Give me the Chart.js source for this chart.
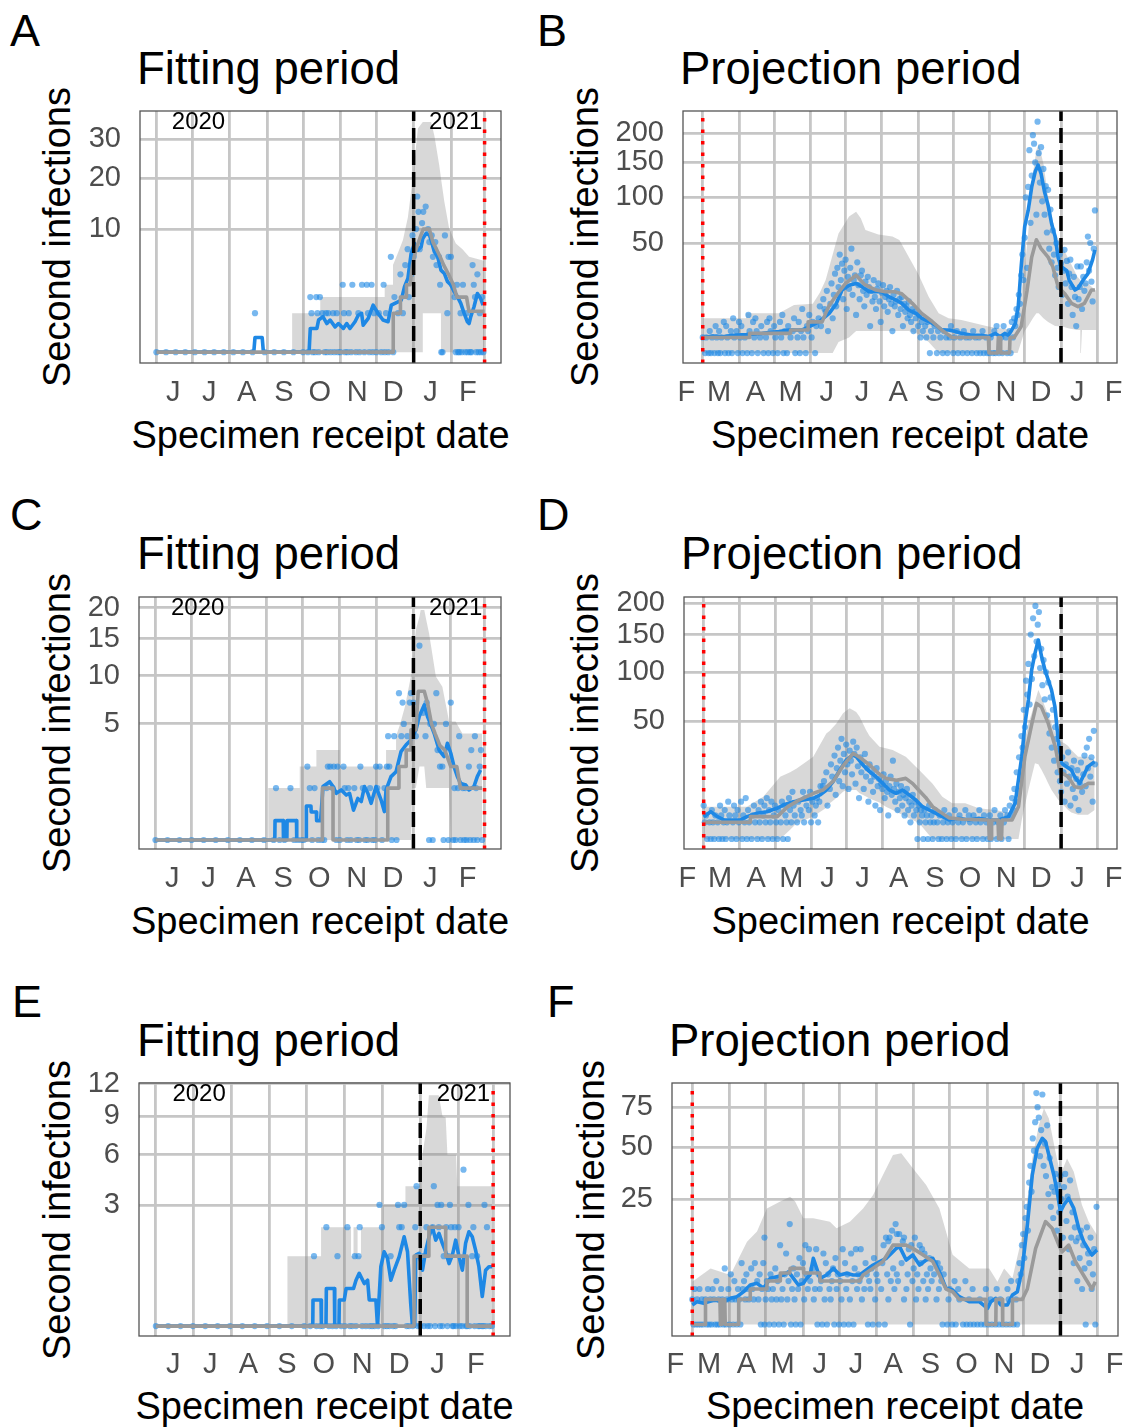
<!DOCTYPE html>
<html lang="en">
<head>
<meta charset="UTF-8">
<title>Second infections: fitting and projection periods</title>
<style>
    body {
        margin: 0;
        background: #fff;
        font-family: "Liberation Sans", Arial, Helvetica, sans-serif;
    }
    .page {
        position: relative;
        width: 1130px;
        height: 1427px;
        overflow: hidden;
        background: #fff;
    }
    .letter {
        position: absolute;
        font-size: 45px;
        line-height: 45px;
        color: #000;
    }
    .title {
        position: absolute;
        font-size: 45.5px;
        line-height: 45.5px;
        color: #000;
        white-space: nowrap;
    }
    .ytitle, .xtitle {
        position: absolute;
        width: 400px;
        height: 38px;
        font-size: 38px;
        line-height: 38px;
        text-align: center;
        white-space: nowrap;
        color: #000;
    }
    .ytitle {
        transform: rotate(-90deg);
        transform-origin: 50% 50%;
    }
    canvas {
        position: absolute;
    }
</style>
</head>
<body>
<div class="page" id="page">
    <div class="letter" style="left:10px;top:8px">A</div>
    <div class="letter" style="left:537px;top:8px">B</div>
    <div class="letter" style="left:10px;top:492px">C</div>
    <div class="letter" style="left:537px;top:492px">D</div>
    <div class="letter" style="left:12px;top:979px">E</div>
    <div class="letter" style="left:547px;top:979px">F</div>

    <div class="title" style="left:137px;top:46px">Fitting period</div>
    <div class="title" style="left:680px;top:46px">Projection period</div>
    <div class="title" style="left:137px;top:531px">Fitting period</div>
    <div class="title" style="left:681px;top:531px">Projection period</div>
    <div class="title" style="left:137px;top:1018px">Fitting period</div>
    <div class="title" style="left:669px;top:1018px">Projection period</div>
</div>

<script src="https://cdn.jsdelivr.net/npm/chart.js"></script>
<script>
// x values are days: fitting panels count from 1 Jun 2020, projection panels from 1 Mar 2021
const fitGridDays = [0, 30, 61, 92, 122, 153, 183, 214, 245, 273];
const fitTickDays = [14, 44, 75, 106, 136, 167, 197, 228, 259];
const fitTickLabels = ['J', 'J', 'A', 'S', 'O', 'N', 'D', 'J', 'F'];
const projGridDays = [0, 31, 61, 92, 122, 153, 184, 214, 245, 275, 306, 337];
const projTickDays = [-14, 14, 45, 75, 106, 136, 167, 198, 228, 259, 289, 320, 351];
const projTickLabels = ['F', 'M', 'A', 'M', 'J', 'J', 'A', 'S', 'O', 'N', 'D', 'J', 'F'];
const yearLabels = ['2020', '2021'];
const yearLabelDays = [35, 249];
const fitDashDay = 214;
const fitDotDay = 273;
const projDashDay = 306;
const projDotDay = 0;

const aYTicks = [10, 20, 30];
const bYTicks = [50, 100, 150, 200];
const cYTicks = [5, 10, 15, 20];
const dYTicks = [50, 100, 150, 200];
const eYTicks = [3, 6, 9, 12];
const fYTicks = [25, 50, 75];

// ribbon rows are [day, lower, upper]; lines and points are [day, value]
const aRibbon = [[0,0,0],[112.9,0,0],[112.9,0,1],[136.3,0,1],[136.3,0,2],[189.9,0,2],[189.9,0,3],[196.8,0,3],[196.8,0,5],[200.9,0,6.5],[205.1,0,8.3],[209.2,0,12],[213.3,0,20],[217.5,0,33],[221.6,0,35],[221.6,1,35],[228.5,1,35],[231.2,1,31],[235.3,1,23],[236.7,1,20],[236.7,0,20],[239.5,0,15],[243.6,0,10],[249.1,0,7.8],[254.6,0,7],[260.1,0,6],[272.5,0,5.5]];
const aMedian = [[0,0],[197,0],[197,1],[203,1],[203,2],[208,2],[208,3],[211,3],[213,5],[216,7],[220,9],[222,10],[227,10],[230,8],[233,7],[236,6],[239,5],[243,4],[247,3],[250,2],[258,2],[260,1.1],[273,1.1]];
const aMean = [[0,0],[81,0],[82,0.14],[88,0.14],[89,0],[127,0],[128,0.37],[133.5,0.37],[134.9,0.68],[138.5,0.83],[141.8,0.54],[144.5,0.68],[148.6,0.42],[151.4,0.54],[155.5,0.37],[158.3,0.54],[161,0.37],[165.2,0.61],[167.9,0.9],[170.7,0.99],[172,0.48],[176.2,0.75],[180.3,1.46],[184.4,0.99],[188.5,0.68],[192.7,0.61],[195.4,1.46],[200.9,1.67],[203.7,1.79],[206.4,2.82],[209.2,3.59],[211.9,6.43],[214.7,7.8],[217.5,6.88],[220.2,7.33],[221.6,8.54],[224.3,9.31],[227.1,9.05],[228.5,8.29],[231.2,6.65],[234,6.01],[236.7,4.44],[239.5,4.09],[242.2,3.27],[245,2.97],[247.7,2.41],[250.5,2.02],[253.2,1.57],[256,0.99],[258.7,0.61],[260.1,0.54],[261.5,0.83],[264.2,1.36],[267,2.27],[269.7,1.9],[271.7,1.46]];
const aObserved = [[0,0],[8,0],[16,0],[24,0],[32,0],[40,0],[48,0],[56,0],[64,0],[72,0],[80,0],[90,0],[98,0],[106,0],[114,0],[122,0],[126,0],[130,0],[132,0],[135,0],[140,0],[142,0],[145,0],[148,0],[151,0],[153,0],[157,0],[159,0],[162,0],[166,0],[169,0],[173,0],[177,0],[180,0],[183,0],[187,0],[190,0],[193,0],[197,0],[237,0],[238,0],[249,0],[251,0],[252,0],[254,0],[257,0],[259,0],[261,0],[262,0],[266,0],[268,0],[270,0],[272,0],
  [82,1],[128,2],[129,1],[133,2],[134,1],[136,2],[138,1],[141,1],[143,1],[147,1],[150,1],[155,3],[156,1],[160,1],[163,3],[168,1],[171,3],[175,3],[176,1],[179,3],[181,1],[185,1],[189,3],[191,1],[195,6],[198,2],[201,1],[203,4],[205,1],[207,5],[209,7],[210,2],[212,4],[213,9],[214,6],[216,10],[217,16],[218,13],[219,7],[221,11],[222,13],[224,14],[226,10],[227,8],[229,9],[230,6],[232,8],[233,5],[235,6],[236,3],[240,9],[242,1],[243,6],[245,6],[246,3],[248,2],[250,3],[253,1],[255,3],[258,1],[263,5],[264,3],[265,2],[267,4],[269,1],[271,2]];

const bRibbon = [[0,0,5],[37,0,5],[37,0,6.5],[65,0,6.5],[78,0,9.5],[94,0,10],[100,0,15],[105,0,22],[111,0,40],[116,0.5,59],[125,1,77],[131,2,82.5],[135,2,75],[139,2,62.5],[150,2,58],[162,2,56],[168,2,52.7],[176,2,38],[184,1.5,26],[193,0.5,13.1],[201.5,0,6.5],[210,0,5],[221,0,4.5],[244,0,2.9],[264,0,2.2],[269,0,6],[272,0.5,14.7],[275,2,30],[278,3,59],[282,5,133],[285,6.5,170],[287,6.5,181],[291,5,148],[295,4,101],[301,3,60],[307,2.9,46.7],[313,2.5,35.7],[320,2.2,24],[322.5,2.2,22],[323,0,21],[324,2.2,21],[329,2.2,20],[336,2.2,16]];
const bMedian = [[0,1],[40,1],[40,1.6],[75,1.6],[75,2.2],[90,2.2],[90,4],[102,4],[105,6.5],[108,9.3],[117,16],[122,20],[131,25],[138,19.5],[148,16.4],[156,15.5],[164,15.5],[170,14.5],[179,10.2],[187,6.5],[196,4.1],[204,2.2],[213,1],[244,1],[244.5,0],[252,0],[252.5,1],[254,1],[254.5,0],[262,0],[262.5,1],[266,1],[272,2.9],[277,16],[281,38],[285,53],[289,45],[295,38],[299,30.8],[303.5,18.2],[309,14.7],[315,10.2],[320.5,8.9],[326,10.2],[332,16.4],[335,16.4]];
const bMean = [[0,1],[9,1.2],[17,1.1],[26,1.3],[37,1.4],[51,1.6],[65,1.9],[74,2.2],[85,2.2],[91,2.9],[99.5,4.1],[108,6.5],[114,10],[119,16.4],[125,19],[131,20],[136,18.2],[142,15.5],[148,15.5],[153,15.5],[159,13.1],[165,11.6],[170,10.2],[176,7.6],[182,6.5],[187,5],[193,4.1],[199,3.2],[204,2.2],[210,2.2],[216,1.9],[221,1.6],[230,1.3],[238,1.3],[244,1.1],[250,1.6],[254,1.1],[258,1.6],[261,1.3],[264,2.2],[267,3.6],[269.5,8.9],[272,30.8],[275,66],[278,84],[281,114],[284,136],[286.5,146],[289,133],[292,107],[295,90],[298,69],[301,56],[303.5,38],[306,31],[311,28],[313,22],[318,16.4],[320.5,17.3],[325,22],[329,26],[333,36],[335,44]];
const bObserved = [[2,0],[5,0],[7,0],[10,0],[13,0],[15,0],[19,0],[22,0],[25,0],[30,0],[34,0],[38,0],[42,0],[47,0],[52,0],[56,0],[60,0],[64,0],[69,0],[72,0],[79,0],[83,0],[88,0],[96,0],
  [0,1],[3,1],[8,1],[12,1],[16,1],[21,1],[27,1],[32,1],[36,1],[44,1],[49,1],[54,1],[62,1],[67,1],[75,1],[81,1],[86,1],[93,1],
  [6,2],[14,2],[24,2],[29,2],[40,2],[46,2],[58,2],[70,2],[77,2],[84,2],[90,2],
  [11,3],[20,3],[33,3],[50,3],[61,3],[73,3],[89,3],[97,3],
  [18,4],[31,4],[43,4],[55,4],[66,4],[82,4],[94,4],
  [26,5],[45,5],[57,5],[78,5],[99,5],[39,6],[68,6],[91,6],[85,8],[100,9],[104,8],
  [101,3],[103,12],[105,7],[106,16],[107,2],[109,10],[110,20],[111,5],[112,14],[113,26],[114,9],[115,30],[116,18],[117,40],[118,22],[119,33],[120,12],[121,28],[122,36],[123,8],[124,24],[125,17],[126,30],[127,45],[128,14],[129,22],[130,25],[131,6],[132,34],[133,19],[134,12],[135,25],[136,28],[137,16],[138,9],[139,21],[140,14],[141,24],[142,18],[143,3],[144,16],[145,11],[146,22],[147,13],[148,8],[149,17],[150,20],[151,11],[152,4],[153,15],[154,19],[155,9],[156,13],[157,16],[158,7],[159,12],[160,18],[161,10],[162,2],[163,14],[164,9],[165,11],[166,16],[167,6],[168,12],[169,8],[170,13],[171,3],[172,10],[173,7],[174,9],[175,5],[176,11],[177,6],[178,4],[179,8],[180,2],[181,7],[182,5],[184,3],[185,6],[186,1],[187,4],[188,2],[190,3],[191,1],[192,4],[194,0],[195,2],[197,1],[198,3],[200,0],[201,2],[203,1],[205,0],[206,2],[208,1],[209,0],[211,1],[212,3],[214,0],[215,1],[217,2],[218,0],[220,1],[222,0],[223,2],[225,1],[226,0],[228,1],[230,0],[231,2],[233,1],[234,0],[236,1],[237,0],[239,2],[240,0],[242,1],[243,0],[245,0],[246,1],[248,0],[249,2],[250,0],[251,3],[253,0],[255,1],[256,0],[257,3],[259,1],[260,0],[262,2],[263,0],[264,4],[265,1],[266,5],[267,3],[268,8],[269,6],[270,14],[271,10],[272,25],[273,40],[274,22],[275,55],[276,100],[277,30],[278,114],[279,170],[280,70],[281,130],[282,196],[283,181],[284,150],[285,79],[286,221],[287,165],[288,120],[289,175],[290,95],[291,140],[292,79],[293,115],[294,60],[295,110],[296,45],[297,85],[298,34],[299,62],[300,40],[301,25],[302,50],[303,30],[304,18],[305,40],[306,33],[307,14],[308,28],[309,44],[310,20],[311,35],[312,10],[313,26],[314,36],[315,18],[316,6],[317,24],[318,13],[319,3],[320,31],[321,12],[322,18],[323,31],[324,8],[325,24],[326,16],[327,20],[328,34],[329,56],[330,28],[331,50],[332,21],[333,11],[334,45],[335,84]];

const cRibbon = [[0,0,0],[93.6,0,0],[93.6,0,1],[119.7,0,1],[119.7,0,2],[133.5,0,2],[133.5,0,3],[152.8,0,3],[152.8,0,2],[191.3,0,2],[191.3,0,3],[199.6,0,3],[199.6,0,4],[203,0,5],[207,0,6.6],[212,0,10],[213,1,11],[216,1,16.4],[219,2,18.5],[220,2,19.6],[223,2,19.6],[224.6,1,18],[227,1,15.8],[232.6,1,9.9],[238,1,8.7],[243.6,1,5.2],[245,0,5.2],[249,0,5.2],[254.6,0,4.2],[271,0,4.2]];
const cMedian = [[0,0],[138.5,0],[138.5,1],[147.3,1],[147.3,0],[192.7,0],[192.7,1],[202,1],[202,2],[208,2],[208,3],[212,3],[212,4.5],[216,4.5],[218,8.2],[223,8.2],[226,6.8],[229,5],[232,4.2],[236,3.3],[240,3],[245,2],[250,2],[253,1],[271,1]];
const cMean = [[0,0],[99,0],[99.2,0.14],[106,0.14],[106.2,0],[109,0],[109.2,0.14],[117,0.14],[117.2,0],[125,0],[125.2,0.43],[129,0.43],[129.2,0.29],[133.5,0.29],[133.7,0.14],[137,0.14],[139,1.06],[144.5,1.26],[147.3,1.06],[150,0.81],[154.1,0.93],[158.3,0.75],[161,0.81],[164.3,0.33],[167.9,0.64],[170.7,0.55],[173.4,1.06],[176.2,0.81],[178.9,0.5],[183,1.06],[187.2,0.59],[189.9,0.3],[191.3,0.93],[195.4,1.49],[199.6,1.73],[203.7,2.9],[207.8,3.35],[211.9,3.71],[216.1,4.49],[218.8,5.65],[223,6.77],[225.7,5.65],[228.5,4.91],[231.2,4.22],[235.3,3],[239.5,2.58],[242.2,3.47],[245,2.79],[247.7,2],[250.5,1.49],[253.2,1.19],[257.4,1.12],[260.1,0.93],[264.2,1.06],[267,1.49],[269.7,1.82]];
const cObserved = [[0,0],[10,0],[20,0],[30,0],[40,0],[50,0],[60,0],[70,0],[80,0],[90,0],[98,0],[103,0],[107,0],[115,0],[118,0],[121,0],[123,0],[130,0],[135,0],[138,0],[140,0],[150,0],[153,0],[159,0],[162,0],[167,0],[169,0],[174,0],[176,0],[180,0],[182,0],[188,0],[196,0],[200,0],[227,0],[230,0],[239,0],[243,0],[247,0],[249,0],[253,0],[256,0],[258,0],[261,0],[264,0],[267,0],[271,0],
  [100,1],[112,1],[128,1],[132,1],[142,1],[147,1],[157,1],[160,1],[165,1],[172,1],[178,1],[184,1],[190,1],[248,1],[251,1],[255,1],[257,1],[266,1],
  [126,2],[143,2],[145,2],[148,2],[151,2],[156,2],[170,2],[183,2],[186,2],[192,2],[194,2],[238,2],[269,2],[236,2],[260,2],
  [193,4],[198,4],[204,4],[209,4],[216,4],[224,4],[252,4],[265,4],
  [206,5],[228,5],[231,5],[241,5],[205,7],[211,7],[214,7],[225,7],[245,7],[202,8],[212,8],[233,8],[219,14],[222,6],[234,3],[262,3],[270,3]];

const dRibbon = [[0,0,3.75],[37,0,3.75],[51,0,6.4],[65.5,0,13.9],[74,0.3,16],[79.6,0.9,17.9],[93.8,1.8,24.3],[105,3.5,40],[108,4.6,42],[113.6,6,48],[119.3,8,56.7],[122,8.6,59],[125,8.6,61.3],[130.6,8.6,58],[133.5,7.5,53.7],[139,6.5,42.6],[142,5.9,38],[150.5,4.8,30.6],[156,3.75,29.5],[161.8,3,28.4],[173,1.8,24.3],[184.5,0.9,17.1],[195.8,0,11.1],[204.3,0,6.4],[212.8,0,4.6],[224,0,4.6],[235.5,0,3.4],[249.6,0,3],[263.8,0,2.4],[269.5,0,8.6],[272.3,1.3,20],[275,4,35.2],[278,8.6,48],[280.8,14,56.7],[283.6,20.6,68],[286.5,20,79.7],[289.3,17.1,72],[292.2,14,62.9],[295,11.1,55],[297.8,8.6,48],[303.5,5.5,35.2],[309.2,3.8,32.8],[312,3,31],[314.8,2.5,28.4],[320.5,2.1,24.3],[329,2.1,24.3],[334.7,3,22.4]];
const dMedian = [[0,1],[40,1],[40,1.8],[63,1.8],[72,3.75],[82,5.5],[94,7.5],[102,8.6],[111,12],[119,19],[128,26.3],[133.5,24],[142,19.7],[150,15.3],[156,13.2],[165,12.4],[173,13.2],[179,11],[184,8.6],[190,6.2],[196,3.75],[204,2.4],[210,1.6],[221,1.4],[244,1.3],[244.5,0],[246,0],[246.5,1.3],[252,1.3],[252.5,0],[255,0],[255.5,1.3],[264,1.3],[269.5,3.75],[275,24.3],[281,48],[285,66],[289,62.9],[295,48],[301,30.6],[305,16.3],[312,13.9],[317.6,9.8],[323,9.3],[329,11.1],[334.7,11.1]];
const dMean = [[0,1.79],[6,2.68],[11.6,1.79],[17.3,1.3],[23,1.3],[31.5,1.3],[37.1,1.79],[45.6,2.37],[54.1,2.68],[62.6,3.38],[68.3,4.15],[76.8,5],[85.3,5.46],[93.8,5.94],[99.5,6.95],[105.1,8.62],[110.8,11.8],[116.5,17.1],[122.1,22.4],[127.8,25.3],[130.6,24.3],[136.3,19.7],[142,16.3],[147.6,13.9],[153.3,11.1],[159,8.62],[164.6,7.5],[170.3,8.62],[176,6.95],[181.6,5.46],[187.3,3.75],[195.8,2.68],[204.3,1.79],[210,1.3],[218.5,1.53],[227,1.3],[235.5,1.53],[244,1.3],[252.5,1.3],[261,1.79],[266.6,4.57],[272.3,24.3],[275.1,48],[278,69.4],[280.8,102.6],[283.6,123.8],[286.5,142.2],[289.3,119.3],[292.2,102.6],[295,90.8],[297.8,79.7],[300.7,62.9],[303.5,35.2],[306.3,20.6],[310.6,18.8],[314.8,17.1],[317.6,13.9],[321.9,11.1],[324.7,13.9],[329,18.8],[334.7,21.5]];
const dObserved = [[3,0],[6,0],[9,0],[13,0],[16,0],[19,0],[24,0],[28,0],[33,0],[37,0],[41,0],[46,0],[50,0],[55,0],[59,0],[63,0],[68,0],[72,0],
  [1,1],[5,1],[8,1],[12,1],[17,1],[20,1],[25,1],[30,1],[35,1],[39,1],[44,1],[48,1],[53,1],[57,1],[62,1],[66,1],[71,1],[75,1],[80,1],[86,1],[92,1],[98,1],
  [2,2],[10,2],[15,2],[22,2],[27,2],[34,2],[42,2],[51,2],[60,2],[70,2],[78,2],[84,2],[95,2],
  [7,3],[18,3],[29,3],[38,3],[47,3],[56,3],[64,3],[74,3],[83,3],[90,3],
  [0,4],[14,4],[26,4],[43,4],[52,4],[61,4],[69,4],[77,4],[88,4],[96,4],
  [21,5],[32,5],[49,5],[58,5],[67,5],[81,5],[93,5],[99,5],[36,6],[54,6],[73,6],[87,6],[97,6],[76,8],[85,8],[91,8],[100,10],[102,10],
  [103,12],[105,16],[106,4],[108,9],[109,20],[110,14],[112,25],[113,7],[114,18],[115,30],[116,12],[117,22],[118,36],[119,10],[120,26],[121,16],[122,32],[123,20],[124,9],[125,28],[126,22],[127,15],[128,34],[129,26],[130,11],[131,30],[132,19],[133,6],[134,24],[135,16],[136,21],[137,9],[138,26],[139,14],[140,18],[141,5],[142,20],[143,12],[144,16],[145,8],[146,14],[147,4],[148,18],[149,10],[150,13],[151,3],[152,11],[153,9],[154,15],[155,6],[156,12],[157,8],[158,2],[159,10],[160,14],[161,7],[162,22],[163,9],[164,5],[165,11],[166,3],[167,8],[168,6],[169,10],[170,4],[171,7],[172,2],[173,6],[174,9],[175,3],[176,5],[177,1],[178,4],[179,7],[180,2],[181,5],[182,3],[183,0],[184,4],[185,1],[186,3],[187,2],[188,0],[189,3],[190,1],[191,2],[192,0],[193,4],[194,1],[195,2],[196,0],[197,1],[198,3],
  [200,1],[201,0],[202,2],[204,0],[205,1],[206,3],[208,0],[209,1],[210,2],[212,0],[213,1],[215,3],[216,0],[218,1],[219,2],[221,0],[222,1],[224,3],[225,0],[227,2],[228,1],[230,0],[231,2],[233,1],[234,0],[236,3],[237,1],[239,0],[240,2],[242,1],[243,0],[245,2],[246,0],[248,1],[249,3],[251,0],[252,1],[254,2],[255,0],[257,1],[258,3],[260,2],[261,0],[262,4],[263,2],[264,6],[265,3],[266,9],[267,5],[268,16],[269,8],[270,24],[271,14],[272,38],[273,30],
  [274,60],[275,45],[276,90],[277,75],[278,110],[279,65],[280,150],[281,92],[282,175],[283,120],[284,195],[285,140],[286,165],[287,185],[288,105],[289,130],[290,85],[291,115],[292,70],[293,100],[294,55],[295,88],[296,40],[297,72],[298,30],[299,60],[300,22],[301,45],[302,36],[303,16],[304,28],[305,12],[306,8],[307,24],[308,16],[309,5],[310,20],[311,11],[312,27],[313,14],[314,4],[315,18],[316,9],[317,22],[318,6],[319,13],[320,17],[321,3],[322,11],[323,21],[324,8],[325,15],[326,25],[327,10],[328,30],[329,18],[330,36],[331,14],[332,24],[333,5],[334,42],[335,20]];

const eRibbon = [[0,0,0],[106.5,0,0],[106.5,0,1],[133.7,0,1],[133.7,0,2],[158,0,2],[158,0,1],[160,0,1],[160,0,2],[163.3,0,2],[163.3,0,1],[166,0,1],[166,0,2],[183.5,0,2],[183.5,0,3],[202,0,3],[202,0,4],[213,0,4],[215.8,0,6],[219,0,8],[221,0,10.9],[229,0,10.9],[232,0,9],[234.6,0,8.9],[236,0,6],[243,0,6],[244,0,4],[272.3,0,4]];
const eMedian = [[0,0],[209,0],[209,1],[221,1],[221,2],[234.6,2],[234.6,1],[252,1],[252,0],[272.3,0]];
const eMean = [[0,0],[127,0],[127.2,0.14],[133.7,0.14],[134,0],[137.7,0],[138,0.29],[144.5,0.29],[144.8,0],[148.2,0],[148.5,0.14],[152.5,0.14],[154,0.29],[160,0.29],[162,0.43],[164.6,0.57],[168.7,0.37],[171.4,0.43],[172.7,0.14],[178.1,0.14],[179.4,0],[182.1,0.72],[184.8,1.13],[187.5,0.94],[190.2,0.43],[192.9,0.64],[196.9,0.98],[201,1.63],[203.7,1.13],[206.3,0.1],[207.7,0],[209.5,0],[210.4,1.03],[213.1,1.08],[215.8,0.64],[218.5,1.18],[221.1,1.63],[223.8,2.02],[226.5,1.51],[229.2,1.76],[231.9,1.4],[234.6,1.13],[237.3,0.8],[240,1.03],[242.7,1.51],[245.4,0.98],[248.1,0.64],[250.7,1.4],[253.4,1.82],[256.1,1.63],[258.8,1.18],[261.5,0.72],[264.2,0.18],[266.9,0.64],[269.6,0.72],[272.3,0.72]];
const eObserved = [[0,0],[10,0],[20,0],[30,0],[40,0],[50,0],[60,0],[70,0],[80,0],[90,0],[100,0],[110,0],[120,0],[125,0],[130,0],[133,0],[135,0],[140,0],[143,0],[146,0],[150,0],[153,0],[157,0],[159,0],[162,0],[167,0],[170,0],[173,0],[175,0],[177,0],[180,0],[185,0],[187,0],[189,0],[192,0],[194,0],[203,0],[205,0],[208,0],[212,0],[214,0],[217,0],[220,0],[222,0],[226,0],[230,0],[232,0],[236,0],[240,0],[241,0],[243,0],[246,0],[248,0],[251,0],[252,0],[254,0],[258,0],[261,0],[262,0],[264,0],[265,0],[267,0],[270,0],[272,0],
  [128,1],[147,1],[161,1],[164,1],[190,1],[213,1],[216,1],[233,1],[237,1],[256,1],[260,1],
  [138,2],[155,2],[165,2],[183,2],[197,2],[199,2],[210,2],[219,2],[224,2],[229,2],[235,2],[239,2],[242,2],[245,2],[257,2],[268,2],
  [181,3],[196,3],[201,3],[228,3],[231,3],[238,3],[253,3],[266,3],[211,4],[225,4],[249,5]];

const fRibbon = [[0,0,2.9],[15.2,0,5],[31.7,0,3.9],[45.5,0,10.9],[53.8,0,13.7],[62,0,21.4],[73.1,0,24],[81.3,0,25.9],[85.5,0,24],[92.4,0,17.9],[100.6,0,17.9],[114.4,0,16.8],[119.9,0,14.7],[131,0,16.8],[142,0,21.4],[150.3,0,26.6],[158.5,0,35.5],[166.8,0,45.6],[173.7,0,46.5],[183.3,0,38.8],[194.4,0,30.9],[205.4,0,21.4],[210.9,0,13.7],[216.4,0,7.7],[230.2,0,5],[246.8,0,5],[253.6,0,2.9],[259.2,0,5],[266.1,0,3.4],[275.7,0,14.7],[282.6,0,43.8],[288.1,0,63.2],[292.3,0,74.2],[296.4,0,67.4],[301.9,0,47.4],[306,0,35.5],[311.5,0,43.8],[317.1,0,37.1],[323.9,0,22.7],[329.5,0,16.8],[336.4,0,12.7]];
const fMedian = [[0,0],[11,0],[11,1],[23,1],[23.4,0],[24.6,0],[25,1],[27,1],[27.4,0],[38.4,0],[38.6,1],[48,1],[48.2,2],[62,2],[62.2,3],[73,3],[73.2,4.2],[81,4.2],[81.3,5],[92.4,5],[92.6,4.2],[106,4.2],[106.2,3],[139,3],[142,3.9],[150,5],[158.5,6.3],[166.8,10],[177.8,10],[183.3,9.2],[191.6,7.7],[199.9,6.3],[205.4,3.9],[210.9,2],[216.4,1.7],[221.9,1],[244,1],[244.2,0],[252.3,0],[252.5,1],[257.8,1],[258,0],[266,0],[266.1,1],[274.3,1],[278.5,2],[285.4,9.2],[293.6,16.8],[299.1,14.7],[304.7,10],[307.4,8.4],[312.9,10],[318.4,6.3],[326.7,3.4],[332.2,2],[335,2.9]];
const fMean = [[0,0.6],[4.1,0.83],[9.6,0.71],[17.9,0.95],[26.2,0.83],[31.7,1.09],[37.2,1.23],[42.7,1.71],[48.2,2.48],[53.8,2.69],[59.3,2.08],[64.8,3.38],[70.3,3.63],[75.8,3.89],[80,4.43],[84.1,3.38],[88.2,2.48],[92.4,2.69],[95.1,3.38],[97.9,3.89],[100.6,6.95],[103.4,5],[106.1,3.38],[111.7,3.89],[117.2,5],[122.7,3.89],[128.2,4.16],[133.7,3.89],[139.2,3.89],[144.7,4.71],[150.3,5.62],[155.8,6.27],[161.3,6.95],[166.8,8.42],[169.6,9.21],[172.3,9.62],[177.8,6.6],[183.3,7.67],[188.9,5.62],[194.4,6.6],[199.9,6.95],[205.4,4.43],[210.9,2.08],[216.4,1.89],[221.9,1.23],[230.2,0.83],[238.5,0.83],[245.4,0.41],[248.1,0.83],[252.3,1.09],[256.4,0.6],[261.9,0.6],[266.1,1.38],[270.2,1.71],[274.3,5],[278.5,15.7],[282.6,35.5],[286.7,49.3],[290.9,55],[293.6,53.1],[296.4,45.6],[300.5,35.5],[303.3,28],[306,20.2],[308.8,22.7],[312.9,25.3],[317.1,21.4],[321.2,14.7],[325.3,10.9],[329.5,8.81],[332.2,7.67],[336.4,8.81]];
const fObserved = [[1,0],[3,0],[5,0],[7,0],[9,0],[12,0],[14,0],[16,0],[19,0],[21,0],[23,0],[26,0],[28,0],[31,0],[34,0],[37,0],[40,0],[57,0],[60,0],[64,0],[68,0],[72,0],[76,0],[82,0],[86,0],[90,0],[104,0],[108,0],[112,0],[118,0],[122,0],[126,0],[130,0],[134,0],[146,0],[150,0],[155,0],[160,0],[181,0],[208,0],[212,0],[216,0],[219,0],[225,0],[228,0],[231,0],[234,0],[237,0],[240,0],[243,0],[246,0],[249,0],[252,0],[255,0],[258,0],[261,0],[264,0],[267,0],[270,0],[327,0],[335,0],
  [0,1],[4,1],[8,1],[11,1],[15,1],[18,1],[22,1],[25,1],[29,1],[33,1],[36,1],[39,1],[44,1],[47,1],[51,1],[55,1],[61,1],[66,1],[70,1],[74,1],[79,1],[85,1],[93,1],[101,1],[110,1],[115,1],[124,1],[131,1],[141,1],[152,1],[163,1],[176,1],[186,1],[194,1],[203,1],[213,1],[222,1],[230,1],[239,1],[248,1],[256,1],[263,1],[269,1],
  [2,2],[6,2],[13,2],[17,2],[24,2],[30,2],[38,2],[42,2],[46,2],[50,2],[58,2],[63,2],[67,2],[75,2],[83,2],[88,2],[96,2],[102,2],[106,2],[114,2],[120,2],[128,2],[137,2],[143,2],[148,2],[157,2],[168,2],[178,2],[188,2],[196,2],[205,2],[214,2],[221,2],[233,2],[244,2],[253,2],[262,2],[332,2],
  [20,3],[35,3],[43,3],[54,3],[62,3],[71,3],[80,3],[91,3],[98,3],[107,3],[116,3],[123,3],[133,3],[139,3],[147,3],[154,3],[165,3],[171,3],[183,3],[192,3],[199,3],[207,3],[218,3],[227,3],[265,3],[271,3],
  [32,4],[45,4],[56,4],[65,4],[77,4],[87,4],[95,4],[105,4],[113,4],[121,4],[129,4],[138,4],[145,4],[153,4],[162,4],[170,4],[179,4],[187,4],[195,4],[201,4],[209,4],[273,4],
  [27,5],[49,5],[69,5],[84,5],[100,5],[117,5],[135,5],[149,5],[167,5],[184,5],[198,5],
  [41,6],[52,6],[59,6],[92,6],[111,6],[127,6],[144,6],[158,6],[174,6],[190,6],[204,6],
  [78,8],[89,7],[97,9],[109,8],[119,7],[125,9],[132,8],[140,9],[151,7],[159,10],[164,12],[166,14],[169,16],[172,13],[175,11],[180,9],[185,12],[189,10],[193,8],[197,7],[202,6],[206,5],
  [81,16],[73,10],[60,12],[94,10],[103,9],[136,9],[161,12],[163,11],[170,13],[176,12],[182,10],[191,9],
  [272,6],[274,10],[275,13],[276,7],[277,18],[278,22],[279,14],[280,32],[281,40],[282,28],[283,55],[284,48],[285,65],[286,85],[287,75],[288,68],[289,45],[290,60],[291,84],[292,40],[293,52],[294,35],[295,63],[296,27],[297,44],[298,22],[299,30],[300,18],[301,28],[302,36],[303,14],[304,31],[305,20],[306,35],[307,25],[308,12],[309,30],[310,36],[311,17],[312,26],[313,9],[314,33],[315,12],[316,20],[317,6],[318,15],[319,11],[320,3],[321,12],[322,7],[323,14],[324,2],[325,10],[326,5],[328,15],[329,8],[330,6],[331,12],[333,4],[334,9],[336,22]];

const BLUE = 'rgb(30,136,229)';
const BLUE_POINT = 'rgba(30,136,229,0.6)';
const GREY_LINE = '#9a9a9a';
const BAND = 'rgba(125,125,125,0.3)';
const GRID = '#c6c6c6';
const FRAME = '#555555';
const TICK = '#4d4d4d';
const FONT = '"Liberation Sans", Arial, Helvetica, sans-serif';

Chart.defaults.font.family = FONT;

// square-root y axis, like ggplot's scale_y_sqrt
function sgnSqrt(v) { return v < 0 ? -Math.sqrt(-v) : Math.sqrt(v); }

class SqrtScale extends Chart.LinearScale {
    configure() {
        super.configure();
        this._sqLo = sgnSqrt(this.min);
        this._sqHi = sgnSqrt(this.max);
    }
    getPixelForValue(value) {
        if (value === null || value === undefined || isNaN(value)) return NaN;
        return this.getPixelForDecimal((sgnSqrt(value) - this._sqLo) / (this._sqHi - this._sqLo));
    }
    getValueForPixel(pixel) {
        const s = this._sqLo + this.getDecimalForPixel(pixel) * (this._sqHi - this._sqLo);
        return s * Math.abs(s);
    }
}
SqrtScale.id = 'sqrt';
SqrtScale.defaults = {};
Chart.register(SqrtScale);

// frame round the panel and the year labels
const panelDecor = {
    id: 'panelDecor',
    afterDatasetsDraw(chart, args, opts) {
        const { ctx, chartArea: a } = chart;
        if (opts.years) {
            const xs = chart.scales.x;
            ctx.save();
            ctx.font = '24px ' + FONT;
            ctx.fillStyle = '#000';
            ctx.textAlign = 'center';
            ctx.textBaseline = 'middle';
            yearLabels.forEach((t, i) => ctx.fillText(t, xs.getPixelForValue(yearLabelDays[i]), a.top + 11));
            ctx.restore();
        }
        ctx.save();
        ctx.strokeStyle = FRAME;
        ctx.lineWidth = 1.3;
        ctx.strokeRect(a.left, a.top, a.right - a.left, a.bottom - a.top);
        ctx.restore();
    }
};

const periods = {
    fit: { min: -13.65, max: 286.65, grid: fitGridDays, ticks: fitTickDays, labels: fitTickLabels, dash: fitDashDay, dot: fitDotDay, years: true },
    proj: { min: -16.85, max: 353.85, grid: projGridDays, ticks: projTickDays, labels: projTickLabels, dash: projDashDay, dot: projDotDay, years: false }
};

// box = plot area [left, top, right, bottom] in page pixels
const panels = [
    { period: 'fit', box: [140, 111, 501, 363], yTitleX: 57, xTickY: 393, xTitleY: 435, y: [-0.078, 38.4], yTicks: aYTicks, ribbon: aRibbon, median: aMedian, mean: aMean, observed: aObserved },
    { period: 'proj', box: [683, 111, 1117, 363], yTitleX: 585, xTickY: 393, xTitleY: 435, y: [-0.41, 241.9], yTicks: bYTicks, ribbon: bRibbon, median: bMedian, mean: bMean, observed: bObserved },
    { period: 'fit', box: [139, 597, 501, 849], yTitleX: 57, xTickY: 879, xTitleY: 921, y: [-0.03, 21.9], yTicks: cYTicks, ribbon: cRibbon, median: cMedian, mean: cMean, observed: cObserved },
    { period: 'proj', box: [684, 597, 1117, 849], yTitleX: 585, xTickY: 879, xTitleY: 921, y: [-0.36, 210.3], yTicks: dYTicks, ribbon: dRibbon, median: dMedian, mean: dMean, observed: dObserved },
    { period: 'fit', box: [139, 1083, 510, 1336], yTitleX: 57, xTickY: 1365, xTitleY: 1406, y: [-0.02, 12.08], yTicks: eYTicks, ribbon: eRibbon, median: eMedian, mean: eMean, observed: eObserved },
    { period: 'proj', box: [672, 1083, 1118, 1336], yTitleX: 591, xTickY: 1365, xTitleY: 1406, y: [-0.21, 92.6], yTicks: fYTicks, ribbon: fRibbon, median: fMedian, mean: fMean, observed: fObserved }
];

function zeroPad(s) {
    s.paddingLeft = 0; s.paddingRight = 0; s.paddingTop = 0; s.paddingBottom = 0;
}

const toXY = rows => rows.map(r => ({ x: r[0], y: r[1] }));

const page = document.getElementById('page');
const PAD_TOP = 22;
const PAD_RIGHT = 14;

panels.forEach(p => {
    const per = periods[p.period];
    const [L, T, R, B] = p.box;
    const left = Math.round(p.yTitleX - 19);
    const top = T - PAD_TOP;
    const width = R + PAD_RIGHT - left;
    const height = Math.round(p.xTitleY - 20) - top;

    // axis titles as page text
    const yt = document.createElement('div');
    yt.className = 'ytitle';
    yt.textContent = 'Second infections';
    yt.style.left = (p.yTitleX - 200) + 'px';
    yt.style.top = ((T + B) / 2 - 19) + 'px';
    page.appendChild(yt);

    const xt = document.createElement('div');
    xt.className = 'xtitle';
    xt.textContent = 'Specimen receipt date';
    xt.style.left = ((L + R) / 2 - 200) + 'px';
    xt.style.top = (p.xTitleY - 18.6) + 'px';
    page.appendChild(xt);

    const canvas = document.createElement('canvas');
    canvas.width = width;
    canvas.height = height;
    canvas.style.left = left + 'px';
    canvas.style.top = top + 'px';
    canvas.style.width = width + 'px';
    canvas.style.height = height + 'px';
    page.appendChild(canvas);

    const observed = toXY(p.observed).sort((a, b) => a.x - b.x);

    new Chart(canvas, {
        type: 'line',
        data: {
            datasets: [
                { data: [{ x: per.dot, y: p.y[0] }, { x: per.dot, y: p.y[1] }], borderColor: '#ff0000', borderWidth: 3.5, borderDash: [3.5, 8], order: 1 },
                { data: [{ x: per.dash, y: p.y[0] }, { x: per.dash, y: p.y[1] }], borderColor: '#000', borderWidth: 3.5, borderDash: [15, 7], order: 2 },
                { data: toXY(p.median), borderColor: GREY_LINE, borderWidth: 3.6, order: 3 },
                { data: toXY(p.mean), borderColor: BLUE, borderWidth: 3.6, order: 4 },
                { data: observed, showLine: false, pointRadius: 3.1, pointBorderWidth: 0, pointBackgroundColor: BLUE_POINT, order: 5 },
                { data: p.ribbon.map(r => ({ x: r[0], y: r[2] })), borderWidth: 0, fill: '+1', backgroundColor: BAND, order: 6 },
                { data: p.ribbon.map(r => ({ x: r[0], y: r[1] })), borderWidth: 0, fill: false, order: 7 }
            ]
        },
        options: {
            responsive: false,
            animation: false,
            events: [],
            layout: { autoPadding: false, padding: { left: 0, top: PAD_TOP, right: PAD_RIGHT, bottom: 0 } },
            elements: {
                point: { radius: 0, hoverRadius: 0 },
                line: { tension: 0, borderCapStyle: 'butt', borderJoinStyle: 'round' }
            },
            plugins: {
                legend: { display: false },
                tooltip: { enabled: false },
                panelDecor: { years: per.years }
            },
            scales: {
                x: {
                    type: 'linear', min: per.min, max: per.max, bounds: 'data',
                    afterBuildTicks: s => { s.ticks = per.grid.map(v => ({ value: v })); },
                    afterFit: s => { s.height = 0; zeroPad(s); },
                    ticks: { display: false },
                    grid: { color: GRID, lineWidth: 2.8, drawTicks: false },
                    border: { display: false }
                },
                xl: {
                    type: 'linear', axis: 'x', position: 'bottom', min: per.min, max: per.max, bounds: 'data',
                    afterBuildTicks: s => { s.ticks = per.ticks.map(v => ({ value: v })); },
                    afterFit: s => { s.height = top + height - B; zeroPad(s); },
                    ticks: {
                        callback: (v, i) => per.labels[i],
                        autoSkip: false, maxRotation: 0, minRotation: 0,
                        padding: p.xTickY - B - 14.5,
                        color: TICK, font: { size: 29, lineHeight: 1 }
                    },
                    grid: { display: false, drawTicks: false },
                    border: { display: false }
                },
                y: {
                    type: 'sqrt', min: p.y[0], max: p.y[1], bounds: 'data',
                    afterBuildTicks: s => { s.ticks = p.yTicks.map(v => ({ value: v })); },
                    afterFit: s => { s.width = L - left; zeroPad(s); },
                    ticks: { padding: 19, color: TICK, font: { size: 29, lineHeight: 1 } },
                    grid: { color: GRID, lineWidth: 2.8, drawTicks: false },
                    border: { display: false }
                }
            }
        },
        plugins: [panelDecor]
    });
});
</script>
</body>
</html>
